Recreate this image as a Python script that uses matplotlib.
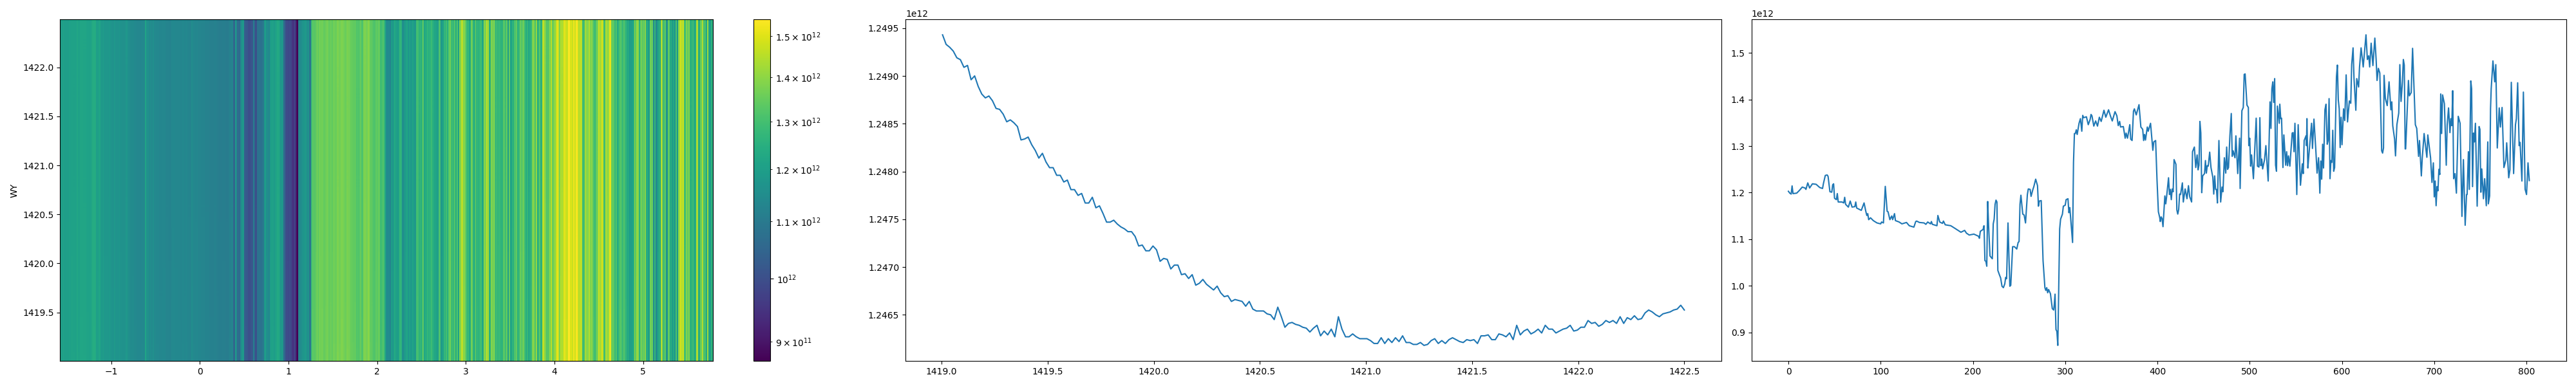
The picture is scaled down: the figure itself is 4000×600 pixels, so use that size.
import matplotlib
matplotlib.use("Agg")
import matplotlib.pyplot as plt
import numpy as np
from matplotlib.colors import LogNorm

# mean over the energy axis (units of 1e7)
wy_mean = [
    124943, 124933, 124930, 124926, 124919, 124917, 124909, 124911, 124896, 124900,
    124889, 124881, 124877, 124879, 124874, 124866, 124865, 124860, 124852, 124854,
    124851, 124847, 124833, 124834, 124836, 124828, 124822, 124814, 124819, 124810,
    124804, 124804, 124796, 124796, 124789, 124791, 124781, 124781, 124775, 124777,
    124767, 124767, 124773, 124762, 124764, 124756, 124747, 124747, 124749, 124745,
    124742, 124740, 124737, 124737, 124732, 124722, 124723, 124717, 124717, 124722,
    124718, 124706, 124709, 124708, 124698, 124702, 124702, 124692, 124693, 124688,
    124692, 124681, 124683, 124687, 124682, 124679, 124676, 124680, 124673, 124669,
    124670, 124664, 124666, 124665, 124664, 124659, 124664, 124656, 124654, 124654,
    124654, 124651, 124650, 124645, 124658, 124648, 124637, 124641, 124642, 124640,
    124639, 124637, 124636, 124632, 124636, 124639, 124628, 124633, 124629, 124635,
    124627, 124648, 124635, 124627, 124627, 124630, 124627, 124625, 124625, 124625,
    124623, 124620, 124620, 124626, 124620, 124625, 124621, 124626, 124622, 124628,
    124621, 124621, 124619, 124619, 124621, 124618, 124619, 124623, 124625, 124620,
    124623, 124620, 124624, 124626, 124624, 124622, 124621, 124624, 124623, 124624,
    124620, 124628, 124628, 124629, 124624, 124624, 124630, 124629, 124627, 124631,
    124624, 124639, 124629, 124633, 124635, 124630, 124632, 124635, 124631, 124639,
    124635, 124635, 124631, 124633, 124635, 124636, 124639, 124633, 124634, 124637,
    124637, 124644, 124641, 124642, 124638, 124640, 124644, 124642, 124644, 124641,
    124648, 124641, 124647, 124645, 124649, 124645, 124646, 124652, 124655, 124653,
    124650, 124648, 124651, 124652, 124653, 124655, 124656, 124660, 124655,
]

# channel number and mean over wy (units of 1e12)
spec_index = [
    0, 1.5, 3, 4, 5, 9, 12, 15, 18, 19,
    21, 23, 26, 30, 34, 37, 38, 40, 42, 43,
    45, 47, 48, 49, 50, 52, 53, 54, 58, 60,
    61, 62, 65, 67, 69, 72, 73, 74, 79, 82,
    84, 85, 86, 87, 89, 92, 96, 100, 101, 103,
    105, 107, 108, 110, 112, 113, 115, 116, 120, 123,
    128, 131, 136, 138, 139, 142, 147, 149, 151, 154,
    155, 156, 161, 162, 164, 167, 168, 170, 176, 180,
    187, 191, 193, 196, 201, 206, 207, 208, 211, 212,
    213, 214, 215, 216, 217, 218.5, 221, 222, 223, 224,
    225, 226, 227, 229, 230, 231.5, 233, 234.5, 235.5, 236.5,
    238, 239, 240, 241, 243, 245, 247.5, 249, 250, 251,
    252, 254, 255.5, 257, 259, 260, 262, 263, 265, 266,
    268, 270, 271, 272, 274, 276, 278, 279, 280, 281,
    282, 284, 286, 287.5, 288, 289, 290, 291, 292, 294,
    295, 297, 298, 300, 301, 303, 304, 305, 308, 309,
    310, 311, 312, 313, 315, 316.5, 318, 319, 320, 323,
    325, 327, 328, 329, 331, 333, 335, 337, 339, 342,
    344, 347, 349, 351, 354, 356, 357.5, 359, 360, 363,
    365, 366, 367.5, 368.5, 370, 371, 372.5, 374, 375, 377,
    380, 382, 384, 385, 386, 387, 389, 390, 392.5, 395,
    396, 398, 399.5, 401, 402.5, 403, 404, 405, 406, 408,
    409, 410, 412, 413, 414, 415, 416, 417, 418, 420,
    421, 422, 423, 424, 425, 427, 428, 430, 432, 433.6,
    435, 437, 438, 440, 441.5, 443, 444, 445, 446, 447,
    448, 449, 451, 452, 453, 454, 455, 456.6, 458, 460,
    461, 462, 463, 464, 465, 466.6, 468.5, 470, 471, 472.5,
    474, 475, 476, 477, 478.5, 480, 481, 482, 484, 485,
    487, 489, 489.6, 491.5, 493, 494, 495, 497, 498.5, 499,
    500, 501, 502, 504, 507, 508.4, 510, 511, 512, 513,
    514, 516, 517.5, 520, 522, 523, 524, 525, 526, 527,
    528, 529, 530, 532, 532.6, 533.6, 534.5, 536, 537, 539,
    540, 541, 542, 543.5, 546, 547, 548, 549, 551, 552.5,
    555, 557, 558, 559, 561, 561.5, 562, 563, 564, 567,
    568, 569.6, 571.5, 573, 574.6, 576, 577, 578, 579, 580,
    581.5, 582.7, 584, 585, 586, 587, 588, 589, 590, 591,
    592, 594, 595, 596, 597, 598, 599, 600, 601.7, 603,
    604.5, 606, 608, 609.5, 610.5, 612, 613, 615, 616, 618,
    619, 620.7, 623, 626, 627.5, 629, 630, 631.6, 633.5, 635.6,
    637, 638, 639.4, 641, 643, 644, 645, 645.6, 647, 649,
    651, 653, 654, 655, 657, 658, 659.5, 661.5, 662.7, 664,
    665.5, 666.5, 667.5, 668.5, 669, 672, 673, 675, 676.5, 679.5,
    681, 683, 684, 686, 687, 689, 690, 692, 693, 696,
    697.5, 699, 700, 701, 702, 703, 704, 705, 706, 707,
    708, 709, 711, 713, 714, 715.5, 717, 718, 719, 720,
    721, 722.5, 724, 726, 728, 730, 731.6, 733.5, 735, 735.6,
    737, 738, 739.6, 740.5, 741.5, 742.5, 743.5, 744.6, 746.5, 748.6,
    749.5, 750.5, 751.5, 753.3, 754.6, 756.4, 758, 758.6, 760, 761,
    761.7, 763.6, 765.5, 766.7, 768.3, 770.4, 771.7, 773.5, 775.5, 777.6,
    778.5, 780.7, 782, 783.5, 786, 788, 789, 790.4, 792, 793,
    795, 796.6, 798.5, 800, 801.6, 803,
]
spec_mean = [
    1.203, 1.199, 1.197, 1.2145, 1.198, 1.199, 1.205, 1.212, 1.210, 1.207,
    1.221, 1.210, 1.219, 1.218, 1.211, 1.209, 1.220, 1.237, 1.238, 1.235,
    1.202, 1.201, 1.217, 1.219, 1.188, 1.185, 1.198, 1.180, 1.180, 1.178,
    1.190, 1.175, 1.169, 1.182, 1.169, 1.170, 1.180, 1.167, 1.162, 1.178,
    1.159, 1.151, 1.155, 1.142, 1.146, 1.140, 1.135, 1.133, 1.137, 1.135,
    1.2135, 1.160, 1.159, 1.142, 1.150, 1.142, 1.155, 1.140, 1.137, 1.133,
    1.136, 1.129, 1.126, 1.138, 1.139, 1.136, 1.135, 1.132, 1.137, 1.133,
    1.138, 1.132, 1.129, 1.151, 1.137, 1.134, 1.139, 1.131, 1.129, 1.124,
    1.115, 1.119, 1.113, 1.109, 1.111, 1.1065, 1.102, 1.117, 1.121, 1.129,
    1.054, 1.053, 1.042, 1.181, 1.128, 1.064, 1.058, 1.133, 1.143, 1.175,
    1.184, 1.180, 1.033, 1.022, 1.017, 0.999, 0.996, 1.004, 1.018, 1.015,
    1.135, 1.064, 0.999, 1.001, 1.084, 1.084, 1.079, 1.093, 1.095, 1.175,
    1.1945, 1.154, 1.152, 1.135, 1.196, 1.208, 1.207, 1.192, 1.207, 1.213,
    1.229, 1.215, 1.171, 1.182, 1.183, 1.054, 0.996, 0.990, 0.996, 0.985,
    0.992, 0.983, 0.951, 0.948, 0.956, 0.982, 0.906, 0.902, 0.872, 1.122,
    1.143, 1.154, 1.171, 1.173, 1.185, 1.187, 1.157, 1.168, 1.093, 1.265,
    1.327, 1.327, 1.335, 1.325, 1.349, 1.359, 1.332, 1.366, 1.361, 1.363,
    1.346, 1.357, 1.368, 1.365, 1.343, 1.354, 1.343, 1.362, 1.353, 1.377,
    1.362, 1.378, 1.365, 1.354, 1.374, 1.365, 1.344, 1.353, 1.341, 1.342,
    1.317, 1.328, 1.317, 1.328, 1.346, 1.315, 1.312, 1.375, 1.380, 1.367,
    1.389, 1.341, 1.336, 1.312, 1.325, 1.313, 1.341, 1.332, 1.349, 1.291,
    1.309, 1.312, 1.228, 1.159, 1.146, 1.138, 1.148, 1.144, 1.127, 1.193,
    1.176, 1.193, 1.232, 1.196, 1.207, 1.185, 1.208, 1.202, 1.271, 1.261,
    1.163, 1.154, 1.164, 1.197, 1.196, 1.221, 1.180, 1.208, 1.187, 1.215,
    1.191, 1.180, 1.288, 1.298, 1.254, 1.281, 1.249, 1.259, 1.353, 1.328,
    1.200, 1.236, 1.241, 1.269, 1.242, 1.258, 1.257, 1.287, 1.254, 1.233,
    1.197, 1.236, 1.207, 1.207, 1.178, 1.312, 1.180, 1.212, 1.202, 1.275,
    1.242, 1.298, 1.250, 1.254, 1.322, 1.370, 1.278, 1.290, 1.275, 1.322,
    1.241, 1.317, 1.209, 1.376, 1.383, 1.454, 1.455, 1.388, 1.383, 1.301,
    1.317, 1.257, 1.281, 1.230, 1.360, 1.257, 1.255, 1.361, 1.258, 1.272,
    1.251, 1.270, 1.301, 1.225, 1.395, 1.338, 1.423, 1.438, 1.394, 1.445,
    1.259, 1.246, 1.386, 1.349, 1.390, 1.359, 1.360, 1.254, 1.324, 1.259,
    1.288, 1.258, 1.279, 1.257, 1.328, 1.329, 1.288, 1.349, 1.196, 1.346,
    1.216, 1.262, 1.241, 1.312, 1.322, 1.301, 1.359, 1.253, 1.278, 1.349,
    1.295, 1.358, 1.296, 1.242, 1.275, 1.199, 1.268, 1.229, 1.304, 1.253,
    1.378, 1.390, 1.304, 1.312, 1.402, 1.230, 1.269, 1.265, 1.334, 1.246,
    1.254, 1.449, 1.474, 1.399, 1.380, 1.297, 1.362, 1.303, 1.380, 1.355,
    1.453, 1.352, 1.397, 1.392, 1.475, 1.511, 1.446, 1.377, 1.445, 1.427,
    1.470, 1.511, 1.470, 1.539, 1.486, 1.494, 1.470, 1.521, 1.473, 1.532,
    1.486, 1.441, 1.467, 1.457, 1.290, 1.285, 1.296, 1.452, 1.402, 1.387,
    1.438, 1.378, 1.395, 1.344, 1.315, 1.279, 1.346, 1.371, 1.475, 1.396,
    1.438, 1.486, 1.474, 1.294, 1.294, 1.441, 1.408, 1.415, 1.510, 1.346,
    1.338, 1.278, 1.312, 1.236, 1.275, 1.327, 1.309, 1.276, 1.324, 1.275,
    1.222, 1.264, 1.191, 1.225, 1.172, 1.213, 1.204, 1.250, 1.239, 1.412,
    1.327, 1.410, 1.391, 1.259, 1.346, 1.382, 1.329, 1.359, 1.344, 1.419,
    1.230, 1.241, 1.199, 1.364, 1.349, 1.149, 1.271, 1.130, 1.196, 1.196,
    1.288, 1.207, 1.440, 1.423, 1.213, 1.328, 1.309, 1.349, 1.171, 1.342,
    1.336, 1.201, 1.251, 1.187, 1.230, 1.172, 1.309, 1.176, 1.193, 1.381,
    1.423, 1.483, 1.438, 1.475, 1.296, 1.382, 1.341, 1.383, 1.254, 1.270,
    1.307, 1.232, 1.249, 1.437, 1.241, 1.346, 1.359, 1.436, 1.301, 1.308,
    1.225, 1.416, 1.207, 1.196, 1.264, 1.226,
]

wy_start = 1419.005
wy_stop = 1422.5
image_ymax = 1422.49
energy_start = -1.577
energy_stop = 5.788
last_channel = 803

wy_mean = np.array(wy_mean) * 1e7
spec_mean = np.array(spec_mean) * 1e12
spec_index = np.array(spec_index)

wy = np.linspace(wy_start, wy_stop, len(wy_mean))
energy = energy_start + spec_index * (energy_stop - energy_start) / last_channel
image = np.outer(wy_mean / wy_mean.mean(), spec_mean)

fig = plt.figure(figsize=(40, 6), dpi=100)
ax_im = fig.add_axes([93.3 / 4000, 39 / 600, 1013.7 / 4000, 531 / 600])
ax_cb = fig.add_axes([1170 / 4000, 39 / 600, 26 / 4000, 531 / 600])
ax_wy = fig.add_axes([1406 / 4000, 39 / 600, 1267 / 4000, 531 / 600])
ax_spec = fig.add_axes([2719.5 / 4000, 39 / 600, 1265.5 / 4000, 531 / 600])

mesh = ax_im.pcolormesh(energy, wy, image, shading="nearest", norm=LogNorm(), cmap="viridis")
ax_im.set_xlim(energy_start, energy_stop)
ax_im.set_ylim(wy_start, image_ymax)
ax_im.set_ylabel("WY")
fig.colorbar(mesh, cax=ax_cb)

ax_wy.plot(wy, wy_mean)
ax_spec.plot(spec_index, spec_mean)

fig.savefig("out.png", dpi=100)
